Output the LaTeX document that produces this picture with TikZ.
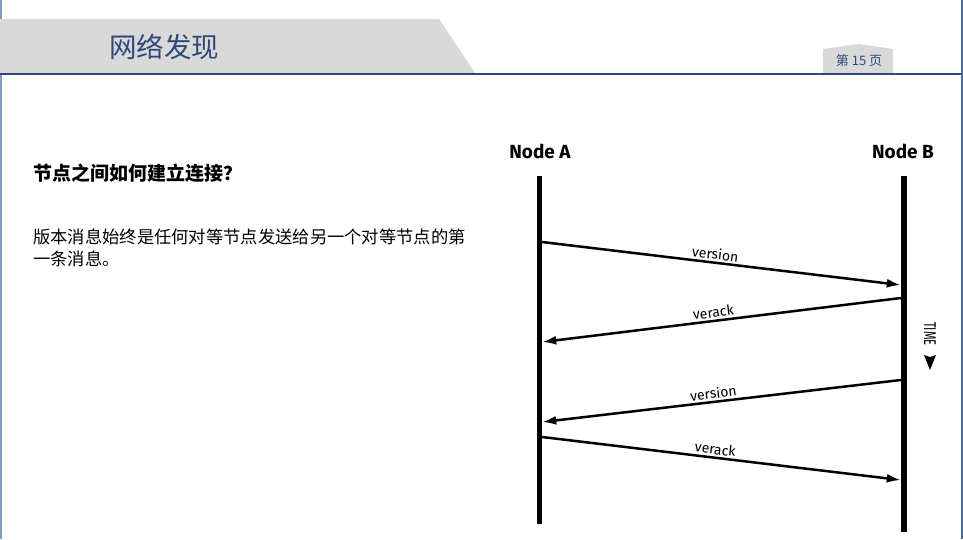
\documentclass[tikz,border=0pt]{standalone}
\usepackage{fontspec}
\setmainfont{Fira Sans}
\newfontfamily\cjk{Noto Sans CJK SC}
\usetikzlibrary{arrows.meta, positioning}
\definecolor{titleBlue}{HTML}{2E4A7D}
\definecolor{bandGray}{HTML}{D9D9D9}
\definecolor{rimBlue}{HTML}{4F6B96}
\definecolor{rimLight}{HTML}{7E9CC8}

\begin{document}
\begin{tikzpicture}[
    x=1pt, y=-1pt,
    lifeline/.style={rectangle, fill=black, inner sep=0pt, minimum width=5pt},
    msg/.style={line width=2.5pt, -{Latex[length=14pt, width=9pt]}},
    msglabel/.style={font=\fontsize{14}{14}\selectfont, sloped, above, inner sep=2pt},
    peer/.style={font=\fontsize{19}{19}\selectfont\bfseries, inner sep=0pt},
  ]
    \useasboundingbox (0,0) rectangle (963,539);
    \fill[white] (0,0) rectangle (963,539);

    % slide frame and header
    \draw[rimLight, line width=1.5pt] (0.75,0) -- (0.75,539);
    \draw[rimBlue, line width=2.5pt] (961.75,0) -- (961.75,539);
    \fill[bandGray] (0,19) -- (439,19) -- (475,73) -- (0,73) -- cycle;
    \fill[bandGray] (823,49) -- (859,44) -- (893,49) -- (893,73) -- (823,73) -- cycle;
    \draw[titleBlue, line width=1.2pt] (0,74) -- (961,74);
    \node[font=\cjk\fontsize{27.5}{27.5}\selectfont, text=titleBlue, anchor=west,
          inner sep=0pt] (title) at (109,47) {网络发现};
    \node[font=\cjk\fontsize{13}{13}\selectfont, text=titleBlue, inner sep=0pt]
          (page) at (859,61) {第 15 页};

    % text on the left
    \node[font=\cjk\fontsize{19}{19}\selectfont\bfseries, anchor=west, inner sep=0pt]
          (question) at (33,173) {节点之间如何建立连接？};
    \node[font=\cjk\fontsize{17.3}{22}\selectfont, anchor=north west, inner sep=0pt,
          text width=470pt, align=left] (answer) at (33,229)
          {版本消息始终是任何对等节点发送给另一个对等节点的第\\一条消息。};

    % peers and lifelines
    \node[peer] (na) at (540,151) {Node A};
    \node[peer] (nb) at (903,151) {Node B};
    \node[lifeline, minimum height=348pt] (la) at (539.5,350) {};
    \node[lifeline, minimum width=6pt, minimum height=356pt] (lb) at (904,354) {};

    % messages
    \draw[msg] (la.east |- 0,242) -- node[msglabel, pos=0.48] {version} (lb.west |- 0,285);
    \draw[msg] (lb.west |- 0,298) -- node[msglabel, pos=0.52] {verack} (la.east |- 0,342);
    \draw[msg] (lb.west |- 0,380) -- node[msglabel, pos=0.52] {version} (la.east |- 0,422);
    \draw[msg] (la.east |- 0,437) -- node[msglabel, pos=0.48] {verack} (lb.west |- 0,480);

    % time direction
    \node[font=\fontsize{17}{17}\selectfont, rotate=-90, inner sep=0pt] (time) at (930,334)
          {\scalebox{0.65}[1]{TIME}};
    \fill (time.west |- 0,357) coordinate (tip) -- ++(-6,-2) -- ++(6,15) -- ++(6,-15) -- cycle;
\end{tikzpicture}
\end{document}
